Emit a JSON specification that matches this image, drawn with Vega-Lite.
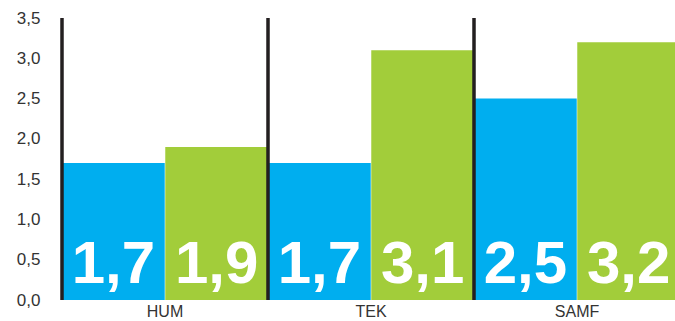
{
  "$schema": "https://vega.github.io/schema/vega-lite/v6.json",
  "width": 613,
  "height": 282,
  "autosize": {"type": "none"},
  "padding": {"left": 62, "top": 18, "right": 0, "bottom": 21},
  "background": "white",
  "config": {
    "view": {"stroke": null},
    "locale": {"number": {"decimal": ",", "thousands": ".", "grouping": [3], "currency": ["", " kr"]}}
  },
  "data": {
    "values": [
      {"fag": "HUM", "serie": "A", "verdi": 1.7},
      {"fag": "HUM", "serie": "B", "verdi": 1.9},
      {"fag": "TEK", "serie": "A", "verdi": 1.7},
      {"fag": "TEK", "serie": "B", "verdi": 3.1},
      {"fag": "SAMF", "serie": "A", "verdi": 2.5},
      {"fag": "SAMF", "serie": "B", "verdi": 3.2}
    ]
  },
  "encoding": {
    "x": {
      "field": "fag", "type": "nominal", "sort": ["HUM", "TEK", "SAMF"],
      "scale": {"paddingInner": 0, "paddingOuter": 0, "range": [0, 618]},
      "axis": {"title": null, "domain": false, "ticks": false, "labelAngle": 0, "labelPadding": 3, "labelFont": "Liberation Sans", "labelFontSize": 16, "labelColor": "#333333"}
    }
  },
  "layer": [
    {
      "mark": {"type": "bar"},
      "encoding": {
        "xOffset": {"field": "serie", "type": "nominal", "scale": {"paddingInner": 0.005, "paddingOuter": 0}},
        "y": {
          "field": "verdi", "type": "quantitative",
          "scale": {"domain": [0, 3.5], "nice": false},
          "axis": {"title": null, "domain": false, "ticks": false, "grid": false, "values": [0, 0.5, 1, 1.5, 2, 2.5, 3, 3.5], "format": ".1f", "labelPadding": 22, "labelFont": "Liberation Sans", "labelFontSize": 17, "labelColor": "#333333"}
        },
        "color": {"field": "serie", "type": "nominal", "scale": {"range": ["#00aeef", "#a2cd3a"]}, "legend": null}
      }
    },
    {
      "mark": {"type": "rule", "color": "#231f20", "strokeWidth": 3},
      "encoding": {
        "x": {"field": "fag", "type": "nominal", "sort": ["HUM", "TEK", "SAMF"], "bandPosition": 0}
      }
    },
    {
      "mark": {"type": "text", "font": "Liberation Sans", "fontWeight": "bold", "fontSize": 60, "color": "white", "baseline": "alphabetic", "align": "center", "dy": -17},
      "encoding": {
        "xOffset": {"field": "serie", "type": "nominal", "scale": {"paddingInner": 0.005, "paddingOuter": 0}},
        "y": {"datum": 0, "type": "quantitative"},
        "text": {"field": "verdi", "type": "quantitative", "format": ".1f"}
      }
    }
  ]
}
